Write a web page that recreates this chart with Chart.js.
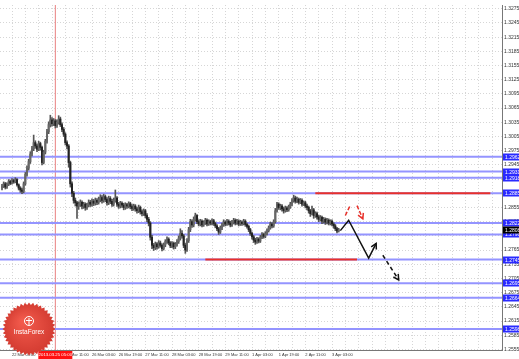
<!DOCTYPE html>
<html>
<head>
<meta charset="utf-8">
<script src="https://cdn.jsdelivr.net/npm/chart.js@4.4.1/dist/chart.umd.min.js"></script>
<style>
  html, body { margin: 0; padding: 0; background: #fff; }
  #wrap { width: 519px; height: 359px; }
</style>
</head>
<body>
<div id="wrap"><canvas id="chart" width="519" height="359"></canvas></div>
<script>
// EUR/USD H1, one entry per bar
const barOpen = [
  1.2896, 1.2900, 1.2905, 1.2898, 1.2904, 1.2910, 1.2906, 1.2912, 1.2909, 1.2914,
  1.2903, 1.2896, 1.2892, 1.2889, 1.2905, 1.2925, 1.2938, 1.2952, 1.2968, 1.2979,
  1.2992, 1.2985, 1.2978, 1.2990, 1.2982, 1.2950, 1.2972, 1.2995, 1.3015, 1.3030,
  1.3040, 1.3032, 1.3038, 1.3028, 1.3035, 1.3042, 1.3030, 1.3020, 1.3010, 1.2992,
  1.2985, 1.2950, 1.2905, 1.2885, 1.2870, 1.2865, 1.2858, 1.2862, 1.2866, 1.2858,
  1.2862, 1.2855, 1.2860, 1.2866, 1.2862, 1.2868, 1.2864, 1.2870, 1.2866, 1.2872,
  1.2876, 1.2870, 1.2878, 1.2872, 1.2865, 1.2874, 1.2868, 1.2862, 1.2870, 1.2875,
  1.2862, 1.2858, 1.2864, 1.2860, 1.2855, 1.2861, 1.2858, 1.2863, 1.2857, 1.2853,
  1.2858, 1.2852, 1.2848, 1.2855, 1.2846, 1.2842, 1.2848, 1.2838, 1.2830, 1.2822,
  1.2792, 1.2775, 1.2770, 1.2778, 1.2772, 1.2780, 1.2775, 1.2768, 1.2776, 1.2783,
  1.2788, 1.2780, 1.2774, 1.2779, 1.2772, 1.2777, 1.2783, 1.2790, 1.2800, 1.2795,
  1.2775, 1.2765, 1.2785, 1.2808, 1.2825, 1.2818, 1.2830, 1.2838, 1.2825, 1.2820,
  1.2826, 1.2818, 1.2823, 1.2828, 1.2820, 1.2825, 1.2822, 1.2827, 1.2821, 1.2816,
  1.2810, 1.2803, 1.2812, 1.2818, 1.2824, 1.2820, 1.2826, 1.2822, 1.2818, 1.2824,
  1.2828, 1.2822, 1.2826, 1.2820, 1.2824, 1.2821, 1.2826, 1.2819, 1.2815, 1.2808,
  1.2800, 1.2793, 1.2786, 1.2782, 1.2788, 1.2784, 1.2792, 1.2798, 1.2794, 1.2800,
  1.2806, 1.2812, 1.2820, 1.2816, 1.2825, 1.2848, 1.2862, 1.2855, 1.2858, 1.2852,
  1.2848, 1.2854, 1.2850, 1.2856, 1.2862, 1.2870, 1.2875, 1.2868, 1.2872, 1.2866,
  1.2870, 1.2862, 1.2865, 1.2858, 1.2855, 1.2848, 1.2842, 1.2850, 1.2838, 1.2842,
  1.2835, 1.2830, 1.2834, 1.2826, 1.2830, 1.2824, 1.2828, 1.2822, 1.2826, 1.2820,
  1.2816, 1.2810, 1.2805
];
const barHigh = [
  1.2904, 1.2909, 1.2908, 1.2907, 1.2914, 1.2913, 1.2916, 1.2915, 1.2918, 1.2916,
  1.2905, 1.2899, 1.2896, 1.2909, 1.2929, 1.2943, 1.2957, 1.2973, 1.2984, 1.3008,
  1.2996, 1.2989, 1.2995, 1.2993, 1.2985, 1.2976, 1.2999, 1.3020, 1.3036, 1.3050,
  1.3045, 1.3043, 1.3041, 1.3040, 1.3049, 1.3046, 1.3034, 1.3024, 1.3013, 1.2996,
  1.2988, 1.2953, 1.2909, 1.2889, 1.2875, 1.2868, 1.2867, 1.2871, 1.2869, 1.2866,
  1.2865, 1.2864, 1.2871, 1.2870, 1.2873, 1.2872, 1.2875, 1.2874, 1.2877, 1.2882,
  1.2880, 1.2883, 1.2881, 1.2876, 1.2879, 1.2878, 1.2872, 1.2875, 1.2892, 1.2878,
  1.2866, 1.2868, 1.2867, 1.2864, 1.2865, 1.2864, 1.2867, 1.2866, 1.2861, 1.2862,
  1.2861, 1.2856, 1.2860, 1.2858, 1.2850, 1.2852, 1.2851, 1.2842, 1.2834, 1.2825,
  1.2796, 1.2779, 1.2782, 1.2781, 1.2785, 1.2784, 1.2778, 1.2780, 1.2787, 1.2793,
  1.2791, 1.2783, 1.2783, 1.2782, 1.2781, 1.2787, 1.2795, 1.2810, 1.2806, 1.2798,
  1.2779, 1.2789, 1.2813, 1.2830, 1.2829, 1.2835, 1.2843, 1.2840, 1.2829, 1.2830,
  1.2829, 1.2827, 1.2832, 1.2831, 1.2829, 1.2828, 1.2831, 1.2830, 1.2824, 1.2819,
  1.2813, 1.2816, 1.2822, 1.2829, 1.2827, 1.2830, 1.2829, 1.2826, 1.2828, 1.2832,
  1.2831, 1.2830, 1.2829, 1.2828, 1.2827, 1.2830, 1.2829, 1.2822, 1.2818, 1.2811,
  1.2803, 1.2796, 1.2790, 1.2792, 1.2791, 1.2796, 1.2802, 1.2801, 1.2804, 1.2810,
  1.2816, 1.2824, 1.2823, 1.2829, 1.2853, 1.2866, 1.2865, 1.2862, 1.2861, 1.2856,
  1.2858, 1.2857, 1.2860, 1.2866, 1.2874, 1.2881, 1.2879, 1.2877, 1.2875, 1.2874,
  1.2873, 1.2869, 1.2868, 1.2862, 1.2858, 1.2851, 1.2858, 1.2853, 1.2846, 1.2845,
  1.2839, 1.2838, 1.2837, 1.2834, 1.2833, 1.2832, 1.2831, 1.2829, 1.2829, 1.2823,
  1.2819, 1.2813, 1.2811
];
const barLow = [
  1.2892, 1.2897, 1.2894, 1.2895, 1.2901, 1.2903, 1.2904, 1.2906, 1.2907, 1.2900,
  1.2892, 1.2887, 1.2884, 1.2886, 1.2902, 1.2921, 1.2934, 1.2948, 1.2964, 1.2975,
  1.2980, 1.2973, 1.2975, 1.2976, 1.2945, 1.2947, 1.2968, 1.2991, 1.3011, 1.3025,
  1.3027, 1.3028, 1.3023, 1.3024, 1.3031, 1.3026, 1.3015, 1.3005, 1.2987, 1.2979,
  1.2940, 1.2898, 1.2878, 1.2864, 1.2858, 1.2832, 1.2851, 1.2857, 1.2852, 1.2853,
  1.2849, 1.2851, 1.2856, 1.2857, 1.2858, 1.2859, 1.2860, 1.2861, 1.2862, 1.2867,
  1.2864, 1.2866, 1.2867, 1.2860, 1.2861, 1.2863, 1.2857, 1.2858, 1.2866, 1.2857,
  1.2853, 1.2854, 1.2855, 1.2850, 1.2851, 1.2853, 1.2854, 1.2852, 1.2848, 1.2849,
  1.2847, 1.2843, 1.2844, 1.2841, 1.2837, 1.2838, 1.2833, 1.2825, 1.2816, 1.2786,
  1.2768, 1.2764, 1.2766, 1.2767, 1.2769, 1.2771, 1.2763, 1.2765, 1.2772, 1.2779,
  1.2776, 1.2770, 1.2770, 1.2767, 1.2768, 1.2773, 1.2779, 1.2786, 1.2790, 1.2770,
  1.2758, 1.2762, 1.2781, 1.2804, 1.2813, 1.2814, 1.2826, 1.2821, 1.2816, 1.2816,
  1.2814, 1.2815, 1.2819, 1.2816, 1.2817, 1.2818, 1.2818, 1.2817, 1.2812, 1.2806,
  1.2798, 1.2800, 1.2808, 1.2815, 1.2816, 1.2817, 1.2818, 1.2814, 1.2815, 1.2820,
  1.2818, 1.2819, 1.2816, 1.2817, 1.2817, 1.2818, 1.2815, 1.2811, 1.2804, 1.2796,
  1.2788, 1.2781, 1.2777, 1.2779, 1.2780, 1.2781, 1.2789, 1.2790, 1.2791, 1.2797,
  1.2803, 1.2809, 1.2812, 1.2813, 1.2822, 1.2845, 1.2851, 1.2850, 1.2847, 1.2843,
  1.2845, 1.2846, 1.2847, 1.2853, 1.2859, 1.2866, 1.2864, 1.2865, 1.2862, 1.2863,
  1.2858, 1.2859, 1.2854, 1.2850, 1.2843, 1.2836, 1.2839, 1.2832, 1.2834, 1.2830,
  1.2825, 1.2826, 1.2821, 1.2822, 1.2819, 1.2820, 1.2818, 1.2818, 1.2816, 1.2811,
  1.2806, 1.2801, 1.2803
];
const barClose = [
  1.2900, 1.2905, 1.2898, 1.2904, 1.2910, 1.2906, 1.2912, 1.2909, 1.2914, 1.2903,
  1.2896, 1.2892, 1.2889, 1.2905, 1.2925, 1.2938, 1.2952, 1.2968, 1.2979, 1.2992,
  1.2985, 1.2978, 1.2990, 1.2982, 1.2950, 1.2972, 1.2995, 1.3015, 1.3030, 1.3040,
  1.3032, 1.3038, 1.3028, 1.3035, 1.3042, 1.3030, 1.3020, 1.3010, 1.2992, 1.2985,
  1.2950, 1.2905, 1.2885, 1.2870, 1.2865, 1.2858, 1.2862, 1.2866, 1.2858, 1.2862,
  1.2855, 1.2860, 1.2866, 1.2862, 1.2868, 1.2864, 1.2870, 1.2866, 1.2872, 1.2876,
  1.2870, 1.2878, 1.2872, 1.2865, 1.2874, 1.2868, 1.2862, 1.2870, 1.2875, 1.2862,
  1.2858, 1.2864, 1.2860, 1.2855, 1.2861, 1.2858, 1.2863, 1.2857, 1.2853, 1.2858,
  1.2852, 1.2848, 1.2855, 1.2846, 1.2842, 1.2848, 1.2838, 1.2830, 1.2822, 1.2792,
  1.2775, 1.2770, 1.2778, 1.2772, 1.2780, 1.2775, 1.2768, 1.2776, 1.2783, 1.2788,
  1.2780, 1.2774, 1.2779, 1.2772, 1.2777, 1.2783, 1.2790, 1.2800, 1.2795, 1.2775,
  1.2765, 1.2785, 1.2808, 1.2825, 1.2818, 1.2830, 1.2838, 1.2825, 1.2820, 1.2826,
  1.2818, 1.2823, 1.2828, 1.2820, 1.2825, 1.2822, 1.2827, 1.2821, 1.2816, 1.2810,
  1.2803, 1.2812, 1.2818, 1.2824, 1.2820, 1.2826, 1.2822, 1.2818, 1.2824, 1.2828,
  1.2822, 1.2826, 1.2820, 1.2824, 1.2821, 1.2826, 1.2819, 1.2815, 1.2808, 1.2800,
  1.2793, 1.2786, 1.2782, 1.2788, 1.2784, 1.2792, 1.2798, 1.2794, 1.2800, 1.2806,
  1.2812, 1.2820, 1.2816, 1.2825, 1.2848, 1.2862, 1.2855, 1.2858, 1.2852, 1.2848,
  1.2854, 1.2850, 1.2856, 1.2862, 1.2870, 1.2875, 1.2868, 1.2872, 1.2866, 1.2870,
  1.2862, 1.2865, 1.2858, 1.2855, 1.2848, 1.2842, 1.2850, 1.2838, 1.2842, 1.2835,
  1.2830, 1.2834, 1.2826, 1.2830, 1.2824, 1.2828, 1.2822, 1.2826, 1.2820, 1.2816,
  1.2810, 1.2805, 1.2808
];

// time axis: bar index of each labelled tick and its text
const timeTickBars = [6, 22, 38, 54, 70, 86, 102, 118, 134, 150, 166, 182, 198];
const timeTickLabels = ['22 Mar 03:00', '22 Mar 19:00', '25 Mar 11:00', '26 Mar 03:00', '26 Mar 19:00',
  '27 Mar 11:00', '28 Mar 03:00', '28 Mar 19:00', '29 Mar 11:00', '1 Apr 03:00',
  '1 Apr 19:00', '2 Apr 11:00', '3 Apr 03:00'];
const priceTicks = [1.2555, 1.2585, 1.2615, 1.2645, 1.2675, 1.2705, 1.2735, 1.2765, 1.2795,
  1.2825, 1.2855, 1.2885, 1.2915, 1.2945, 1.2975, 1.3005, 1.3035, 1.3065, 1.3095,
  1.3125, 1.3155, 1.3185, 1.3215, 1.3245, 1.3275];

// horizontal support / resistance levels
const levelPrices = [1.2962, 1.2931, 1.2918, 1.2885, 1.2822, 1.2798, 1.2745, 1.2695, 1.2664, 1.2598];
// red highlighted segments of two of the levels
const redSegPrice = [1.2885, 1.2745];
const redSegStart = [188, 122];
const redSegEnd = [293, 213];

// vertical marker
const markerBar = 32;
const markerLabel = '2013.03.25 05:00';

// forecast arrows (bar index, price)
const fcSolidBars = [203, 208, 220, 224.5];
const fcSolidPrices = [1.2806, 1.2828, 1.2748, 1.2779];
const fcDashBars = [228.5, 238];
const fcDashPrices = [1.2754, 1.2702];
const altUpBars = [206, 209];
const altUpPrices = [1.2838, 1.2860];
const altDownBars = [213, 216.5];
const altDownPrices = [1.2859, 1.2831];

const xMin = -1.2, xMax = 300;
const yMin = 1.255375, yMax = 1.328292;
const FONT = '"Liberation Sans", Arial, sans-serif';

const pts = (xs, ys) => xs.map((x, i) => ({ x, y: ys[i] }));

const datasets = [];

datasets.push({
  type: 'line', data: [{ x: markerBar, y: yMin }, { x: markerBar, y: yMax }],
  borderColor: '#e88080', borderWidth: 1, pointRadius: 0, order: 9
});
levelPrices.forEach(p => {
  datasets.push({
    type: 'line', data: [{ x: xMin, y: p }, { x: xMax, y: p }],
    borderColor: '#9494ff', borderWidth: 2, pointRadius: 0, order: 8
  });
});
redSegPrice.forEach((p, i) => {
  datasets.push({
    type: 'line', data: [{ x: redSegStart[i], y: p }, { x: redSegEnd[i], y: p }],
    borderColor: '#e8302a', borderWidth: 2, pointRadius: 0, order: 7
  });
});

datasets.push({
  type: 'bar', data: barHigh.map((h, i) => ({ x: i, y: [barLow[i], h] })),
  backgroundColor: '#555', barThickness: 1, grouped: false, order: 4
});
datasets.push({
  type: 'bar', data: barOpen.map((o, i) => ({ x: i, y: [o, barClose[i]] })),
  backgroundColor: barOpen.map((o, i) => barClose[i] >= o ? '#666' : '#222'),
  barThickness: 1.4, minBarLength: 1, grouped: false, order: 3
});

datasets.push({
  type: 'line', data: pts(fcSolidBars, fcSolidPrices), borderColor: '#111',
  borderWidth: 1.5, pointRadius: 0, order: 1, arrowHead: true
});
datasets.push({
  type: 'line', data: pts(fcDashBars, fcDashPrices), borderColor: '#111',
  borderWidth: 1.5, borderDash: [4, 3], pointRadius: 0, order: 1, arrowHead: true
});
datasets.push({
  type: 'line', data: pts(altUpBars, altUpPrices), borderColor: '#e8302a',
  borderWidth: 1.5, borderDash: [4, 2], pointRadius: 0, order: 1
});
datasets.push({
  type: 'line', data: pts(altDownBars, altDownPrices), borderColor: '#e8302a',
  borderWidth: 1.5, borderDash: [4, 2], pointRadius: 0, order: 1, arrowHead: true
});

const overlay = {
  id: 'overlay',
  afterDatasetsDraw(chart) {
    const ctx = chart.ctx;
    chart.data.datasets.forEach((ds, i) => {
      if (!ds.arrowHead) return;
      const pts = chart.getDatasetMeta(i).data;
      const a = pts[pts.length - 2], b = pts[pts.length - 1];
      const ang = Math.atan2(b.y - a.y, b.x - a.x);
      ctx.save();
      ctx.strokeStyle = ds.borderColor;
      ctx.lineWidth = 1.5;
      ctx.beginPath();
      ctx.moveTo(b.x - 6 * Math.cos(ang - 0.5), b.y - 6 * Math.sin(ang - 0.5));
      ctx.lineTo(b.x, b.y);
      ctx.lineTo(b.x - 6 * Math.cos(ang + 0.5), b.y - 6 * Math.sin(ang + 0.5));
      ctx.stroke();
      ctx.restore();
    });
  },
  afterDraw(chart) {
    const ctx = chart.ctx, area = chart.chartArea;
    const ys = chart.scales.y, xs = chart.scales.x;
    ctx.save();
    ctx.font = '5px ' + FONT;
    ctx.textBaseline = 'middle';
    ctx.textAlign = 'left';
    const box = (p, bg) => {
      const y = Math.round(ys.getPixelForValue(p));
      ctx.fillStyle = bg;
      ctx.fillRect(area.right + 1, y - 3.5, chart.width - area.right - 1, 7);
      ctx.fillStyle = '#fff';
      ctx.fillText(p.toFixed(4), area.right + 3, y + 0.5);
    };
    levelPrices.forEach(p => box(p, '#2a2aff'));
    box(barClose[barClose.length - 1], '#000');

    // marker label on time axis
    const mx = xs.getPixelForValue(markerBar);
    ctx.fillStyle = '#ff1010';
    ctx.fillRect(mx - 17, area.bottom + 1, 34, 8);
    ctx.fillStyle = '#fff';
    ctx.font = '4.3px ' + FONT;
    ctx.textAlign = 'center';
    ctx.fillText(markerLabel, mx, area.bottom + 5);

    // InstaForex badge
    const cx = 29, cy = 329;
    ctx.beginPath();
    for (let k = 0; k < 80; k++) {
      const a = k * Math.PI / 40;
      const r = k % 2 ? 24 : 26.5;
      ctx.lineTo(cx + r * Math.cos(a), cy + r * Math.sin(a));
    }
    ctx.closePath();
    const g = ctx.createRadialGradient(cx - 6, cy - 8, 2, cx, cy, 27);
    g.addColorStop(0, '#f25a4c');
    g.addColorStop(1, '#d23a30');
    ctx.fillStyle = g;
    ctx.fill();
    ctx.fillStyle = '#fff';
    ctx.strokeStyle = '#fff';
    ctx.lineWidth = 1;
    ctx.beginPath();
    ctx.arc(cx, cy - 8, 4.5, 0, Math.PI * 2);
    ctx.stroke();
    ctx.fillRect(cx - 0.5, cy - 11, 1, 7);
    ctx.fillRect(cx - 3, cy - 9, 6, 1);
    ctx.font = '6.5px ' + FONT;
    ctx.textAlign = 'center';
    ctx.fillText('InstaForex', cx, cy + 3);
    ctx.restore();
  }
};

new Chart(document.getElementById('chart'), {
  type: 'bar',
  data: { datasets },
  plugins: [overlay],
  options: {
    responsive: false,
    animation: false,
    layout: { padding: 0 },
    plugins: { legend: { display: false }, tooltip: { enabled: false } },
    scales: {
      x: {
        type: 'linear', min: xMin, max: xMax, offset: false,
        grid: { color: '#d6d6d6', drawTicks: false, offset: false },
        border: { display: true, color: '#777', dash: [1, 2] },
        afterBuildTicks(scale) {
          const t = [];
          for (let v = timeTickBars[0]; v <= xMax; v += 8) t.push({ value: v });
          scale.ticks = t;
        },
        afterFit(scale) { scale.height = 9; },
        ticks: {
          autoSkip: false, maxRotation: 0, minRotation: 0, align: 'start', padding: 2,
          color: '#333', font: { size: 4, family: FONT },
          callback(v) {
            const k = timeTickBars.indexOf(v);
            return k >= 0 ? timeTickLabels[k] : '';
          }
        }
      },
      y: {
        position: 'right', min: yMin, max: yMax, beginAtZero: false,
        grid: { color: '#d6d6d6', drawTicks: false },
        border: { display: true, color: '#777', dash: [1, 2] },
        afterBuildTicks(scale) { scale.ticks = priceTicks.map(v => ({ value: v })); },
        afterFit(scale) { scale.width = 17; },
        ticks: {
          padding: 2, color: '#333', font: { size: 5, family: FONT },
          callback(v) { return v.toFixed(4); }
        }
      }
    }
  }
});
</script>
</body>
</html>
